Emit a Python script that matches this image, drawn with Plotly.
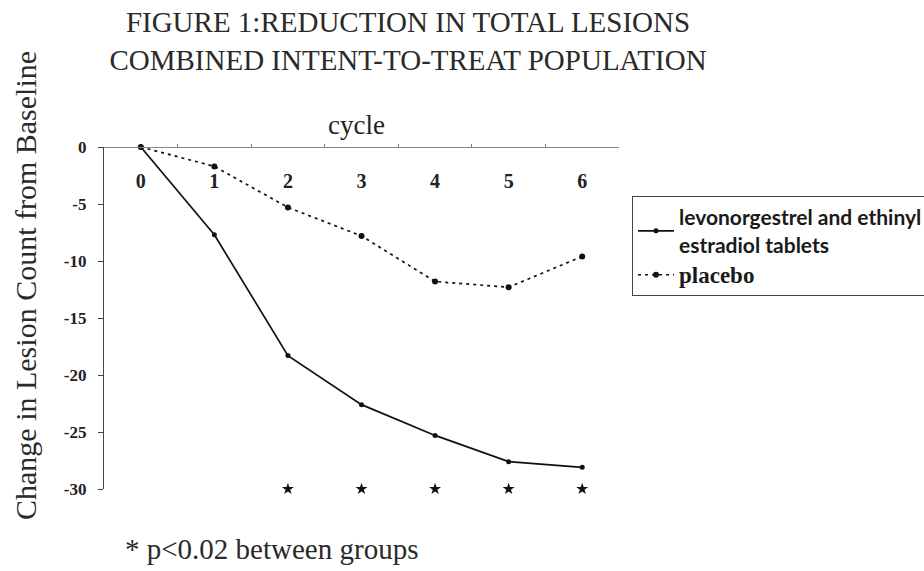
import plotly.graph_objects as go

cycles = ["0", "1", "2", "3", "4", "5", "6"]
drug_values = [0, -7.7, -18.3, -22.6, -25.3, -27.6, -28.1]
placebo_values = [0, -1.7, -5.3, -7.8, -11.8, -12.3, -9.6]
sig_cycles = ["2", "3", "4", "5", "6"]
sig_values = [-30, -30, -30, -30, -30]
y_ticks = [0, -5, -10, -15, -20, -25, -30]

drug_name = "levonorgestrel and ethinyl<br>estradiol tablets"
placebo_name = '<span style="font-family:Liberation Serif;font-size:23px">placebo</span>'
title_text = "FIGURE 1:REDUCTION IN TOTAL LESIONS<br>COMBINED INTENT-TO-TREAT POPULATION"
y_title = "Change in Lesion Count from Baseline"
x_title = "cycle"
footnote = "* p<0.02 between groups"

SERIF = "Liberation Serif, Times New Roman, serif"

# plot-area pixel geometry
L, R, T, B = 104, 619, 147, 489
PW, PH = R - L, B - T


def px_x(x):
    return (x - L) / PW


def px_y(y):
    return (B - y) / PH


fig = go.Figure()
fig.add_trace(go.Scatter(
    x=cycles, y=drug_values, name=drug_name, mode="lines+markers",
    line=dict(color="#111111", width=1.7),
    marker=dict(color="#111111", size=5, symbol="circle"),
    cliponaxis=False,
))
fig.add_trace(go.Scatter(
    x=cycles, y=placebo_values, name=placebo_name, mode="lines+markers",
    line=dict(color="#111111", width=1.7, dash="3px,4px"),
    marker=dict(color="#111111", size=6, symbol="circle"),
    cliponaxis=False,
))
fig.add_trace(go.Scatter(
    x=sig_cycles, y=sig_values, mode="markers", showlegend=False,
    marker=dict(color="#111111", size=9, symbol="star"),
    cliponaxis=False, hoverinfo="skip",
))

fig.update_layout(
    width=924, height=571,
    margin=dict(l=L, r=924 - R, t=T, b=571 - B, autoexpand=False),
    paper_bgcolor="white", plot_bgcolor="white",
    title=dict(text=title_text, x=408 / 924, xanchor="center",
               y=1 - 32 / 571, yanchor="middle",
               font=dict(family=SERIF, size=29, color="#2a2a2a")),
    legend=dict(x=px_x(632), xanchor="left",
                y=px_y(196), yanchor="top",
                bgcolor="white", bordercolor="#444444", borderwidth=1,
                font=dict(family="Lato, Open Sans, sans-serif", size=21,
                          color="#1a1a1a", weight="bold"),
                itemwidth=36, tracegroupgap=0),
    xaxis=dict(type="category", categoryorder="array", categoryarray=cycles,
               range=[-0.5, 6.5], side="bottom", anchor="free", position=1,
               tickson="boundaries",
               ticks="inside", ticklen=3, tickcolor="#777777",
               showline=True, linecolor="#888888", linewidth=1,
               showgrid=False, zeroline=False,
               ticklabelstandoff=16,
               tickfont=dict(family=SERIF, size=20, color="#222222", weight="bold"),
               automargin=False),
    yaxis=dict(range=[-30, 0], tickvals=y_ticks, ticktext=[str(v) for v in y_ticks],
               ticks="outside", ticklen=5, tickcolor="#444444",
               showline=True, linecolor="#444444", linewidth=1.2,
               showgrid=False, zeroline=False, ticklabelstandoff=8,
               tickfont=dict(family=SERIF, size=17, color="#222222", weight="bold"),
               automargin=False),
    annotations=[
        dict(text=x_title, xref="paper", yref="paper",
             x=px_x(356), y=px_y(142), xanchor="center", yanchor="bottom",
             showarrow=False, font=dict(family=SERIF, size=27, color="#222222")),
        dict(text=y_title, textangle=-90, xref="paper", yref="paper",
             x=px_x(25), y=px_y(286), xanchor="center", yanchor="middle",
             showarrow=False, font=dict(family=SERIF, size=30, color="#2a2a2a")),
        dict(text=footnote, xref="paper", yref="paper",
             x=px_x(123), y=px_y(567), xanchor="left", yanchor="bottom",
             showarrow=False, font=dict(family=SERIF, size=29, color="#2a2a2a")),
    ],
)

fig.write_html(
    "out.html",
    config={"displayModeBar": False},
    post_script="document.body.style.margin='0';document.body.style.padding='0';"
                "document.body.style.overflow='hidden';",
)
